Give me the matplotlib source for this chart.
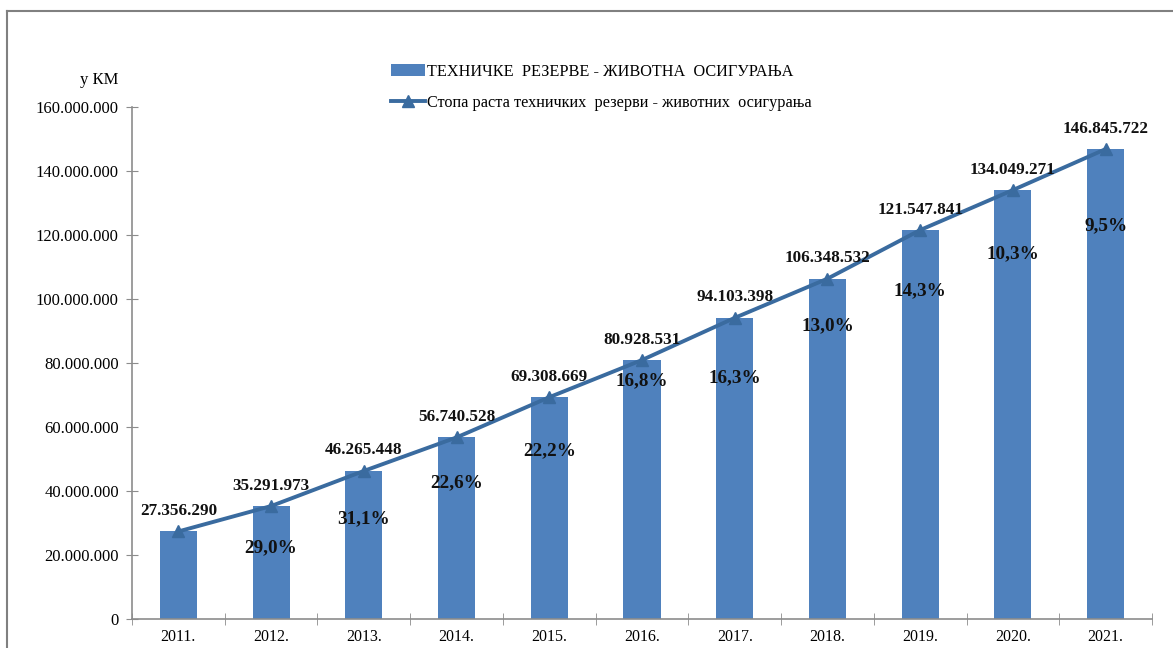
import matplotlib.pyplot as plt
from matplotlib.lines import Line2D
from matplotlib.patches import Patch
from matplotlib.ticker import FuncFormatter

years = ['2011.', '2012.', '2013.', '2014.', '2015.', '2016.', '2017.', '2018.', '2019.', '2020.', '2021.']
reserves = [27356290, 35291973, 46265448, 56740528, 69308669, 80928531,
            94103398, 106348532, 121547841, 134049271, 146845722]
growth = ['', '29,0%', '31,1%', '22,6%', '22,2%', '16,8%', '16,3%', '13,0%', '14,3%', '10,3%', '9,5%']
# vertical spot of each growth label inside the bar
growth_y = [0, 22.2e6, 31.3e6, 42.5e6, 52.5e6, 74.4e6, 75.3e6, 91.6e6, 102.5e6, 114.0e6, 122.8e6]

plt.rcParams['font.family'] = ['Liberation Serif', 'DejaVu Serif']

bar_color = '#4F81BD'
line_color = '#3A6B9F'
axis_color = '#8C8C8C'

fig = plt.figure(figsize=(11.73, 6.48), dpi=100)
ax = fig.add_axes([132 / 1173, 1 - 619 / 648, 1020 / 1173, 512 / 648])

x = range(len(years))
ax.bar(x, reserves, width=0.4, color=bar_color, zorder=2)
ax.plot(x, reserves, color=line_color, lw=2.8, marker='^', markersize=9, zorder=3)

for i, v in enumerate(reserves):
    lbl = f'{v:,}'.replace(',', '.')
    ax.annotate(lbl, (i, v), xytext=(0, 9), textcoords='offset points',
                ha='center', va='bottom', fontsize=12.3, fontweight='bold', color='#111111')
    if growth[i]:
        ax.text(i, growth_y[i], growth[i], ha='center', va='center',
                fontsize=13.8, fontweight='bold', color='#111111', zorder=4)

ax.set_xlim(-0.5, len(years) - 0.5)
ax.set_ylim(0, 160e6)
ax.set_yticks(range(0, 160000001, 20000000))
ax.yaxis.set_major_formatter(FuncFormatter(lambda v, p: f'{int(v):,}'.replace(',', '.')))
ax.set_xticks(list(x))
ax.set_xticklabels(years)
ax.set_xticks([i - 0.5 for i in range(len(years) + 1)], minor=True)
ax.tick_params(axis='x', which='major', length=0, pad=7, labelsize=11.5)
ax.tick_params(axis='x', which='minor', length=8, direction='inout', color=axis_color)
ax.tick_params(axis='y', length=9, direction='inout', color=axis_color, pad=5, labelsize=12)

for s in ['top', 'right']:
    ax.spines[s].set_visible(False)
for s in ['left', 'bottom']:
    ax.spines[s].set_color(axis_color)
    ax.spines[s].set_linewidth(1.2)

fig.text(118 / 1173, 1 - 80 / 648, 'у КМ', ha='right', va='center', fontsize=12)

handles = [Patch(facecolor=bar_color, edgecolor='none'),
           Line2D([0], [0], color=line_color, lw=2.8, marker='^', markersize=9)]
labels = ['ТЕХНИЧКЕ  РЕЗЕРВЕ - ЖИВОТНА  ОСИГУРАЊА',
          'Стопа раста техничких  резерви - животних  осигурања']
fig.legend(handles, labels, loc='upper left', bbox_to_anchor=(384 / 1173, 1 - 57 / 648),
           frameon=False, fontsize=11.7, handlelength=2.1, handletextpad=0.15, labelspacing=0.95,
           borderaxespad=0)

# outer frame of the chart area
fig.add_artist(Line2D([7 / 1173, 7 / 1173], [0, 1 - 11 / 648], color='#808080', lw=1.5))
fig.add_artist(Line2D([7 / 1173, 1], [1 - 11 / 648, 1 - 11 / 648], color='#808080', lw=1.5))

fig.savefig('out.png', dpi=100)
